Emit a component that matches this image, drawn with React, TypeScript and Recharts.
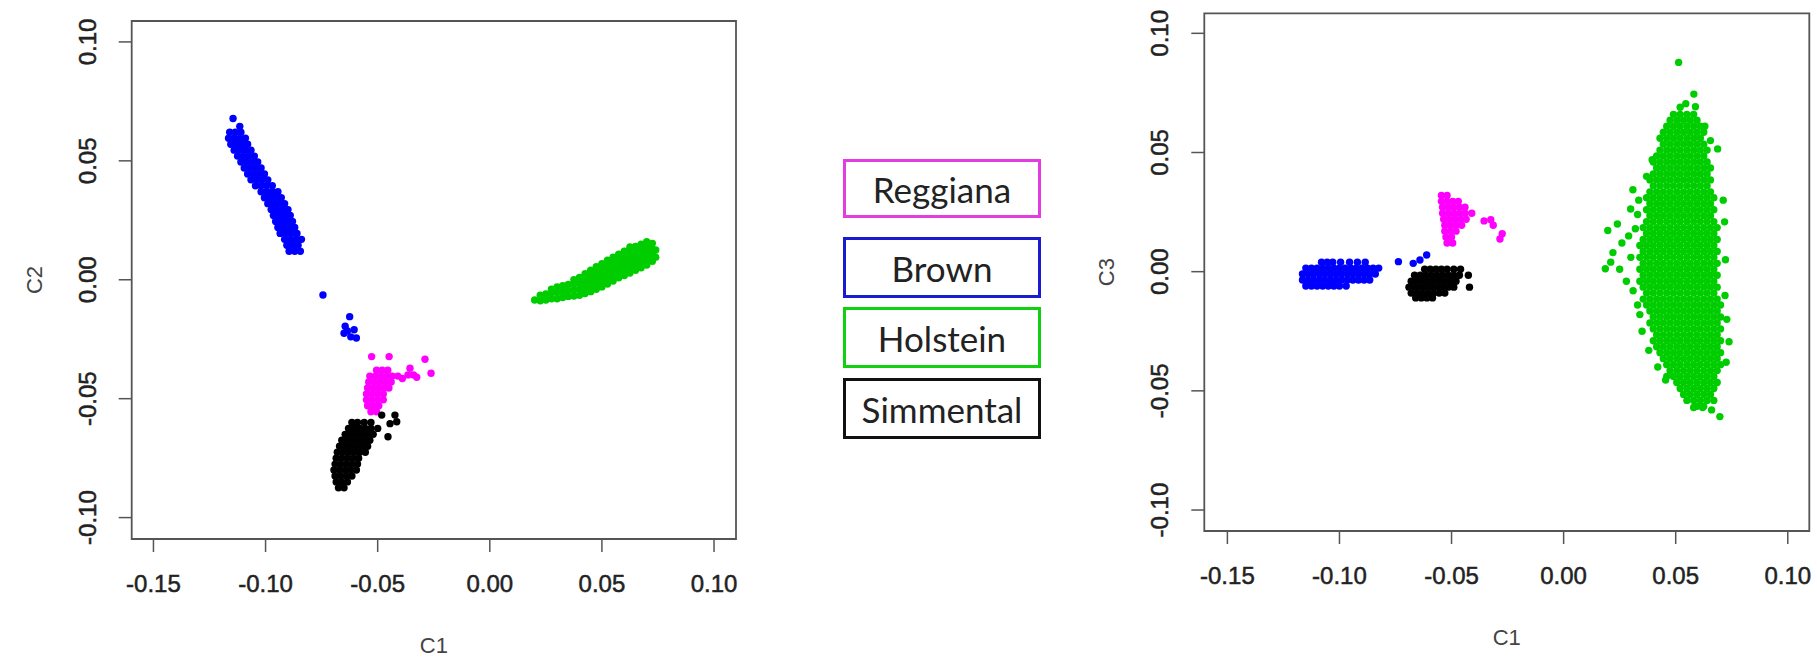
import * as React from "react";
import {ReferenceArea, Scatter, ScatterChart, XAxis, YAxis} from "recharts";

// ---- data ----
const breeds = ["Reggiana", "Brown", "Holstein", "Simmental"];
const breedColors = ["#ff00ff", "#0000ff", "#00cd00", "#000000"];
const legendBorders = ["#e23ce2", "#1a1ad0", "#10d010", "#111111"];

const c1Ticks = [-0.15, -0.1, -0.05, 0, 0.05, 0.1];
const c1TickLabels = ["-0.15", "-0.10", "-0.05", "0.00", "0.05", "0.10"];
const cYTicks = [-0.1, -0.05, 0, 0.05, 0.1];
const cYTickLabels = ["-0.10", "-0.05", "0.00", "0.05", "0.10"];

// rows: [y, [x, x, ...]]
const brownC2Rows: [number, number[]][] = [
    [0.0678, [-0.1145]],
    [0.0645, [-0.1115]],
    [0.0620, [-0.116, -0.1135, -0.111]],
    [0.0595, [-0.1165, -0.114, -0.1115, -0.109]],
    [0.0570, [-0.1155, -0.113, -0.1105, -0.108]],
    [0.0545, [-0.114, -0.1115, -0.109, -0.1065]],
    [0.0520, [-0.1125, -0.110, -0.1075, -0.105]],
    [0.0495, [-0.111, -0.1085, -0.106, -0.1035]],
    [0.0470, [-0.1095, -0.107, -0.1045, -0.102]],
    [0.0445, [-0.108, -0.1055, -0.103, -0.1005]],
    [0.0420, [-0.1065, -0.104, -0.1015, -0.099]],
    [0.0395, [-0.1045, -0.102, -0.0995, -0.097]],
    [0.0370, [-0.102, -0.0995, -0.097, -0.0945]],
    [0.0345, [-0.1005, -0.098, -0.0955, -0.093]],
    [0.0320, [-0.099, -0.0965, -0.094, -0.0915]],
    [0.0295, [-0.0975, -0.095, -0.0925, -0.090]],
    [0.0270, [-0.0965, -0.094, -0.0915, -0.089]],
    [0.0245, [-0.0955, -0.093, -0.0905, -0.088]],
    [0.0220, [-0.0945, -0.092, -0.0895, -0.087]],
    [0.0195, [-0.0935, -0.091, -0.0885, -0.086]],
    [0.0170, [-0.0915, -0.089, -0.0865, -0.084]],
    [0.0145, [-0.0905, -0.088, -0.0855]],
    [0.0120, [-0.0895, -0.087, -0.0845]],
    [-0.0064, [-0.0744]],
    [-0.0155, [-0.0625]],
    [-0.0195, [-0.0645]],
    [-0.0210, [-0.0605]],
    [-0.0215, [-0.0635]],
    [-0.0225, [-0.065]],
    [-0.0240, [-0.062]],
    [-0.0245, [-0.0595]],
];

const reggianaC2Rows: [number, number[]][] = [
    [-0.0323, [-0.0527, -0.0449]],
    [-0.0334, [-0.0289]],
    [-0.0372, [-0.0356]],
    [-0.0380, [-0.0505, -0.048, -0.0455]],
    [-0.0393, [-0.0262]],
    [-0.0400, [-0.0365, -0.034]],
    [-0.0405, [-0.0535, -0.051, -0.0485, -0.046, -0.0435, -0.041]],
    [-0.0410, [-0.0326]],
    [-0.0415, [-0.039]],
    [-0.0430, [-0.054, -0.0515, -0.049, -0.0465, -0.044]],
    [-0.0455, [-0.0545, -0.052, -0.0495, -0.047, -0.045]],
    [-0.0480, [-0.055, -0.0525, -0.050, -0.0475]],
    [-0.0505, [-0.055, -0.0525, -0.050, -0.0475]],
    [-0.0530, [-0.0545, -0.052, -0.0495]],
    [-0.0555, [-0.053, -0.0505]],
];

const simmentalC2Rows: [number, number[]][] = [
    [-0.0569, [-0.0482, -0.0423]],
    [-0.0597, [-0.0415]],
    [-0.0600, [-0.0615, -0.059, -0.056, -0.053]],
    [-0.0605, [-0.0445]],
    [-0.0625, [-0.063, -0.0605, -0.058, -0.0555, -0.053, -0.050]],
    [-0.0650, [-0.0645, -0.062, -0.0595, -0.057, -0.0545, -0.052]],
    [-0.0660, [-0.0454]],
    [-0.0675, [-0.066, -0.0635, -0.061, -0.0585, -0.056, -0.0535]],
    [-0.0700, [-0.067, -0.0645, -0.062, -0.0595, -0.057, -0.0545]],
    [-0.0725, [-0.068, -0.0655, -0.063, -0.0605, -0.058, -0.0555]],
    [-0.0750, [-0.0685, -0.066, -0.0635, -0.061, -0.0585]],
    [-0.0775, [-0.069, -0.0665, -0.064, -0.0615, -0.059]],
    [-0.0800, [-0.0695, -0.067, -0.0645, -0.062, -0.0595]],
    [-0.0825, [-0.069, -0.0665, -0.064, -0.0615]],
    [-0.0850, [-0.0685, -0.066, -0.0635]],
    [-0.0875, [-0.0675, -0.065]],
];

// columns: [x, [y, y, ...]]
const holsteinC2Cols: [number, number[]][] = [
    [0.0200, [-0.0085]],
    [0.0225, [-0.0088, -0.0065]],
    [0.0250, [-0.0085, -0.006]],
    [0.0275, [-0.008, -0.0055, -0.004]],
    [0.0300, [-0.008, -0.0055, -0.003]],
    [0.0325, [-0.0075, -0.005, -0.0025]],
    [0.0350, [-0.007, -0.0045, -0.002]],
    [0.0375, [-0.0068, -0.0043, -0.0018, 0.0]],
    [0.0400, [-0.0065, -0.004, -0.0015, 0.001]],
    [0.0425, [-0.0058, -0.0033, -0.0008, 0.0017, 0.0025]],
    [0.0450, [-0.005, -0.0025, 0.0, 0.0025, 0.004]],
    [0.0475, [-0.004, -0.0015, 0.001, 0.0035, 0.0055]],
    [0.0500, [-0.003, -0.0005, 0.002, 0.0045, 0.0068]],
    [0.0525, [-0.0018, 0.0007, 0.0032, 0.0057, 0.0082]],
    [0.0550, [-0.0005, 0.002, 0.0045, 0.007, 0.0095]],
    [0.0575, [0.0008, 0.0033, 0.0058, 0.0083, 0.0108]],
    [0.0600, [0.0018, 0.0043, 0.0068, 0.0093, 0.012]],
    [0.0625, [0.0028, 0.0053, 0.0078, 0.0103, 0.0128, 0.0138]],
    [0.0650, [0.004, 0.0065, 0.009, 0.0115, 0.014]],
    [0.0675, [0.005, 0.0075, 0.01, 0.0125, 0.015]],
    [0.0700, [0.0062, 0.0087, 0.0112, 0.0137, 0.016]],
    [0.0725, [0.0078, 0.0103, 0.0128, 0.0153]],
    [0.0740, [0.0095, 0.0125]],
];

const brownC3Rows: [number, number[]][] = [
    [0.0070, [-0.0611]],
    [0.0049, [-0.0641]],
    [0.0042, [-0.0737]],
    [0.0035, [-0.0671]],
    [0.0040, [-0.108, -0.1055, -0.103, -0.0995, -0.0955, -0.092, -0.0885]],
    [0.0015, [-0.115, -0.1125, -0.110, -0.1075, -0.105, -0.1025, -0.100, -0.0975, -0.095, -0.0925, -0.090, -0.0875, -0.085, -0.0825]],
    [-0.0010, [-0.1165, -0.114, -0.1115, -0.109, -0.1065, -0.104, -0.1015, -0.099, -0.0965, -0.094, -0.0915, -0.089, -0.0865, -0.084]],
    [-0.0035, [-0.1165, -0.114, -0.1115, -0.109, -0.1065, -0.104, -0.1015, -0.099, -0.0965, -0.094, -0.0915, -0.089, -0.0865]],
    [-0.0060, [-0.115, -0.1125, -0.110, -0.1075, -0.105, -0.1025, -0.100, -0.097]],
];

const simmentalC3Rows: [number, number[]][] = [
    [0.0010, [-0.062, -0.0595, -0.057, -0.0545, -0.052, -0.049, -0.046]],
    [-0.0015, [-0.0665, -0.064, -0.0615, -0.059, -0.0565, -0.054, -0.0515, -0.049, -0.0465, -0.0425]],
    [-0.0040, [-0.068, -0.0655, -0.063, -0.0605, -0.058, -0.0555, -0.053, -0.0505, -0.048]],
    [-0.0065, [-0.069, -0.0665, -0.064, -0.0615, -0.059, -0.0565, -0.054, -0.0515, -0.049, -0.042]],
    [-0.0090, [-0.068, -0.0655, -0.063, -0.0605, -0.058, -0.0555, -0.053]],
    [-0.0110, [-0.066, -0.0635, -0.061, -0.0585]],
];

const reggianaC3Rows: [number, number[]][] = [
    [0.0320, [-0.0545, -0.052]],
    [0.0295, [-0.0545, -0.052, -0.0495, -0.047]],
    [0.0270, [-0.054, -0.0515, -0.049, -0.0465, -0.044]],
    [0.0245, [-0.054, -0.0515, -0.049, -0.0465, -0.044, -0.041]],
    [0.0220, [-0.0535, -0.051, -0.0485, -0.046, -0.0435]],
    [0.0218, [-0.0325]],
    [0.0213, [-0.0355]],
    [0.0195, [-0.053, -0.0505, -0.048, -0.0455, -0.0314]],
    [0.0170, [-0.053, -0.0505, -0.048]],
    [0.0159, [-0.0274]],
    [0.0145, [-0.0525, -0.050]],
    [0.0137, [-0.0284]],
    [0.0120, [-0.052, -0.0495]],
];

// dense Holstein core in C1/C3
const holsteinC3Rows: [number, number[]][] = [
    [0.0660, [0.049, 0.052, 0.055, 0.058]],
    [0.0635, [0.0475, 0.0505, 0.0535, 0.0565, 0.0595]],
    [0.0610, [0.046, 0.049, 0.052, 0.055, 0.058, 0.061]],
    [0.0585, [0.0445, 0.0475, 0.0505, 0.0535, 0.0565, 0.0595, 0.0625]],
    [0.0560, [0.043, 0.046, 0.049, 0.052, 0.055, 0.058, 0.061]],
    [0.0535, [0.0445, 0.0475, 0.0505, 0.0535, 0.0565, 0.0595, 0.0625]],
    [0.0510, [0.043, 0.046, 0.049, 0.052, 0.055, 0.058, 0.061, 0.064]],
    [0.0485, [0.0415, 0.0445, 0.0475, 0.0505, 0.0535, 0.0565, 0.0595, 0.0625]],
    [0.0460, [0.040, 0.043, 0.046, 0.049, 0.052, 0.055, 0.058, 0.061, 0.064]],
    [0.0435, [0.0415, 0.0445, 0.0475, 0.0505, 0.0535, 0.0565, 0.0595, 0.0625, 0.0655]],
    [0.0410, [0.040, 0.043, 0.046, 0.049, 0.052, 0.055, 0.058, 0.061, 0.064]],
    [0.0385, [0.0385, 0.0415, 0.0445, 0.0475, 0.0505, 0.0535, 0.0565, 0.0595, 0.0625, 0.0655]],
    [0.0360, [0.040, 0.043, 0.046, 0.049, 0.052, 0.055, 0.058, 0.061, 0.064]],
    [0.0335, [0.0385, 0.0415, 0.0445, 0.0475, 0.0505, 0.0535, 0.0565, 0.0595, 0.0625, 0.0655]],
    [0.0310, [0.037, 0.040, 0.043, 0.046, 0.049, 0.052, 0.055, 0.058, 0.061, 0.064, 0.067]],
    [0.0285, [0.0385, 0.0415, 0.0445, 0.0475, 0.0505, 0.0535, 0.0565, 0.0595, 0.0625, 0.0655]],
    [0.0260, [0.037, 0.040, 0.043, 0.046, 0.049, 0.052, 0.055, 0.058, 0.061, 0.064, 0.067]],
    [0.0235, [0.0385, 0.0415, 0.0445, 0.0475, 0.0505, 0.0535, 0.0565, 0.0595, 0.0625, 0.0655]],
    [0.0210, [0.037, 0.040, 0.043, 0.046, 0.049, 0.052, 0.055, 0.058, 0.061, 0.064, 0.067]],
    [0.0185, [0.0355, 0.0385, 0.0415, 0.0445, 0.0475, 0.0505, 0.0535, 0.0565, 0.0595, 0.0625, 0.0655, 0.0685]],
    [0.0160, [0.037, 0.040, 0.043, 0.046, 0.049, 0.052, 0.055, 0.058, 0.061, 0.064, 0.067]],
    [0.0135, [0.0355, 0.0385, 0.0415, 0.0445, 0.0475, 0.0505, 0.0535, 0.0565, 0.0595, 0.0625, 0.0655, 0.0685]],
    [0.0110, [0.034, 0.037, 0.040, 0.043, 0.046, 0.049, 0.052, 0.055, 0.058, 0.061, 0.064, 0.067]],
    [0.0085, [0.0355, 0.0385, 0.0415, 0.0445, 0.0475, 0.0505, 0.0535, 0.0565, 0.0595, 0.0625, 0.0655, 0.0685]],
    [0.0060, [0.034, 0.037, 0.040, 0.043, 0.046, 0.049, 0.052, 0.055, 0.058, 0.061, 0.064, 0.067]],
    [0.0035, [0.0355, 0.0385, 0.0415, 0.0445, 0.0475, 0.0505, 0.0535, 0.0565, 0.0595, 0.0625, 0.0655, 0.0685]],
    [0.0010, [0.034, 0.037, 0.040, 0.043, 0.046, 0.049, 0.052, 0.055, 0.058, 0.061, 0.064, 0.067]],
    [-0.0015, [0.0355, 0.0385, 0.0415, 0.0445, 0.0475, 0.0505, 0.0535, 0.0565, 0.0595, 0.0625, 0.0655, 0.0685]],
    [-0.0040, [0.034, 0.037, 0.040, 0.043, 0.046, 0.049, 0.052, 0.055, 0.058, 0.061, 0.064, 0.067]],
    [-0.0065, [0.0355, 0.0385, 0.0415, 0.0445, 0.0475, 0.0505, 0.0535, 0.0565, 0.0595, 0.0625, 0.0655, 0.0685]],
    [-0.0090, [0.037, 0.040, 0.043, 0.046, 0.049, 0.052, 0.055, 0.058, 0.061, 0.064, 0.067]],
    [-0.0115, [0.0355, 0.0385, 0.0415, 0.0445, 0.0475, 0.0505, 0.0535, 0.0565, 0.0595, 0.0625, 0.0655, 0.0685]],
    [-0.0140, [0.037, 0.040, 0.043, 0.046, 0.049, 0.052, 0.055, 0.058, 0.061, 0.064, 0.067, 0.070]],
    [-0.0165, [0.0385, 0.0415, 0.0445, 0.0475, 0.0505, 0.0535, 0.0565, 0.0595, 0.0625, 0.0655, 0.0685]],
    [-0.0190, [0.040, 0.043, 0.046, 0.049, 0.052, 0.055, 0.058, 0.061, 0.064, 0.067, 0.070]],
    [-0.0215, [0.0385, 0.0415, 0.0445, 0.0475, 0.0505, 0.0535, 0.0565, 0.0595, 0.0625, 0.0655, 0.0685]],
    [-0.0240, [0.040, 0.043, 0.046, 0.049, 0.052, 0.055, 0.058, 0.061, 0.064, 0.067, 0.070]],
    [-0.0265, [0.0415, 0.0445, 0.0475, 0.0505, 0.0535, 0.0565, 0.0595, 0.0625, 0.0655, 0.0685]],
    [-0.0290, [0.040, 0.043, 0.046, 0.049, 0.052, 0.055, 0.058, 0.061, 0.064, 0.067, 0.070]],
    [-0.0315, [0.0415, 0.0445, 0.0475, 0.0505, 0.0535, 0.0565, 0.0595, 0.0625, 0.0655, 0.0685]],
    [-0.0340, [0.043, 0.046, 0.049, 0.052, 0.055, 0.058, 0.061, 0.064, 0.067, 0.070]],
    [-0.0365, [0.0445, 0.0475, 0.0505, 0.0535, 0.0565, 0.0595, 0.0625, 0.0655, 0.0685]],
    [-0.0390, [0.046, 0.049, 0.052, 0.055, 0.058, 0.061, 0.064, 0.067, 0.070]],
    [-0.0415, [0.0475, 0.0505, 0.0535, 0.0565, 0.0595, 0.0625, 0.0655, 0.0685]],
    [-0.0440, [0.046, 0.049, 0.052, 0.055, 0.058, 0.061, 0.064, 0.067]],
    [-0.0465, [0.0505, 0.0535, 0.0565, 0.0595, 0.0625, 0.0655, 0.0685]],
    [-0.0490, [0.052, 0.055, 0.058, 0.061, 0.064, 0.067]],
    [-0.0515, [0.0535, 0.0565, 0.0595, 0.0625, 0.0655]],
    [-0.0540, [0.055, 0.058, 0.061, 0.064, 0.067]],
    [-0.0565, [0.0595, 0.0625]],
];

// loose Holstein samples around the dense C1/C3 core: [x, y]
const holsteinC3Loose: [number, number][] = [
    [0.0513, 0.0878], [0.0581, 0.0745], [0.0545, 0.0705], [0.0588, 0.0692], [0.0520, 0.0690],
    [0.0630, 0.0610], [0.0655, 0.0550], [0.0687, 0.0515], [0.0395, 0.0470], [0.0370, 0.0400],
    [0.0309, 0.0344], [0.0335, 0.0300], [0.0299, 0.0263], [0.0330, 0.0240], [0.0718, 0.0209],
    [0.0712, 0.0300], [0.0197, 0.0173], [0.0240, 0.0200], [0.0260, 0.0120], [0.0220, 0.0080],
    [0.0186, 0.0012], [0.0210, 0.0040], [0.0250, 0.0010], [0.0280, -0.0040], [0.0300, 0.0060],
    [0.0310, -0.0080], [0.0330, -0.0140], [0.0320, 0.0180], [0.0290, 0.0150], [0.0738, -0.0294],
    [0.0725, -0.0380], [0.0728, -0.0200], [0.0722, 0.0050], [0.0720, -0.0100], [0.0697, -0.0608],
    [0.0660, -0.0580], [0.0620, -0.0570], [0.0580, -0.0570], [0.0455, -0.0455], [0.0420, -0.0400],
    [0.0380, -0.0330], [0.0350, -0.0250], [0.0340, -0.0180],
];

type Pt = {x: number, y: number};
const fromRows = (rows: [number, number[]][]): Pt[] => rows.flatMap(([y, xs]) => xs.map(x => ({x, y})));
const fromCols = (cols: [number, number[]][]): Pt[] => cols.flatMap(([x, ys]) => ys.map(y => ({x, y})));
const fromPairs = (pairs: [number, number][]): Pt[] => pairs.map(([x, y]) => ({x, y}));

const plotC2 = {
    yTitle: "C2",
    series: [fromRows(reggianaC2Rows), fromRows(brownC2Rows), fromCols(holsteinC2Cols), fromRows(simmentalC2Rows)],
};
const plotC3 = {
    yTitle: "C3",
    series: [fromRows(reggianaC3Rows), fromRows(brownC3Rows), [...fromRows(holsteinC3Rows), ...fromPairs(holsteinC3Loose)], fromRows(simmentalC3Rows)],
};

const FONT = "'Liberation Sans', Arial, sans-serif";

const labelFor = (ticks: number[], labels: string[], v: number) => {
    const i = ticks.findIndex(t => Math.abs(t - v) < 1e-9);
    return i >= 0 ? labels[i] : String(v);
};

const XTick = (props: any) => (
    <text x={props.x} y={props.y + 40} textAnchor="middle" fontSize={24} fontFamily={FONT} fill="#222"
          stroke="#222" strokeWidth={0.5}>
        {labelFor(c1Ticks, c1TickLabels, props.payload.value)}
    </text>
);

const YTick = (props: any) => {
    const x = props.x - 23;
    return (
        <text x={x} y={props.y} transform={`rotate(-90 ${x} ${props.y})`} textAnchor="middle" fontSize={24}
              fontFamily={FONT} fill="#222" stroke="#222" strokeWidth={0.5}>
            {labelFor(cYTicks, cYTickLabels, props.payload.value)}
        </text>
    );
};

const xTitle = (text: string) => (props: any) => {
    const vb = props.viewBox;
    return <text x={vb.x + vb.width / 2} y={vb.y + 114} textAnchor="middle" fontSize={22} fontFamily={FONT}
                 fill="#444">{text}</text>;
};

const yTitle = (text: string) => (props: any) => {
    const vb = props.viewBox;
    const x = vb.x + vb.width - 90;
    const y = vb.y + vb.height / 2;
    return <text x={x} y={y} transform={`rotate(-90 ${x} ${y})`} textAnchor="middle" fontSize={22}
                 fontFamily={FONT} fill="#444">{text}</text>;
};

const dot = (color: string) => (props: any) => <circle cx={props.cx} cy={props.cy} r={3.7} fill={color}/>;

interface MdsPlotProps {
    plot: {yTitle: string, series: Pt[][]}
    width: number
    height: number
    margin: {top: number, right: number, bottom: number, left: number}
    xDomain: [number, number]
    yDomain: [number, number]
}

class MdsPlot extends React.Component<MdsPlotProps> {
    render() {
        const {plot, width, height, margin, xDomain, yDomain} = this.props;
        return (
            <ScatterChart width={width} height={height} margin={margin}>
                <XAxis type="number" dataKey="x" domain={xDomain} ticks={c1Ticks} allowDataOverflow interval={0}
                       axisLine={false} tickSize={13} tickMargin={0} tickLine={{stroke: "#555", strokeWidth: 1.5}}
                       tick={<XTick/>} height={120} label={{content: xTitle("C1")}}/>
                <YAxis type="number" dataKey="y" domain={yDomain} ticks={cYTicks} allowDataOverflow interval={0}
                       axisLine={false} tickSize={13} tickMargin={0} tickLine={{stroke: "#555", strokeWidth: 1.5}}
                       tick={<YTick/>} width={60} label={{content: yTitle(plot.yTitle)}}/>
                <ReferenceArea x1={xDomain[0]} x2={xDomain[1]} y1={yDomain[0]} y2={yDomain[1]}
                               fill="none" fillOpacity={0} stroke="#555" strokeWidth={1.8}/>
                {[0, 1, 2, 3].map(i => (
                    <Scatter key={breeds[i]} name={breeds[i]} data={plot.series[i]} fill={breedColors[i]}
                             shape={dot(breedColors[i])} isAnimationActive={false}/>
                ))}
            </ScatterChart>
        );
    }
}

const legendTops = [159, 237, 307, 378];
const legendHeights = [59, 61, 61, 61];

export default function App() {
    return (
        <div style={{position: "relative", width: 1817, height: 670, background: "#fff", overflow: "hidden"}}>
            <style>{"body{margin:0}"}</style>
            <div style={{position: "absolute", left: 0, top: 0}}>
                <MdsPlot plot={plotC2} width={760} height={670}
                         margin={{top: 21, right: 24, bottom: 11, left: 71.7}}
                         xDomain={[-0.1597, 0.1098]} yDomain={[-0.109, 0.1088]}/>
            </div>
            <div style={{position: "absolute", left: 1060, top: 0}}>
                <MdsPlot plot={plotC3} width={757} height={670}
                         margin={{top: 13.3, right: 7.7, bottom: 19, left: 84.3}}
                         xDomain={[-0.1603, 0.1096]} yDomain={[-0.1088, 0.1084]}/>
            </div>
            {breeds.map((b, i) => (
                <div key={b} style={{
                    position: "absolute", left: 843, top: legendTops[i], width: 198, height: legendHeights[i],
                    boxSizing: "border-box", border: `3px solid ${legendBorders[i]}`, display: "flex",
                    alignItems: "center", justifyContent: "center", fontFamily: "Lato, 'Open Sans', sans-serif",
                    fontSize: 35, color: "#222",
                }}>{b}</div>
            ))}
        </div>
    );
}
